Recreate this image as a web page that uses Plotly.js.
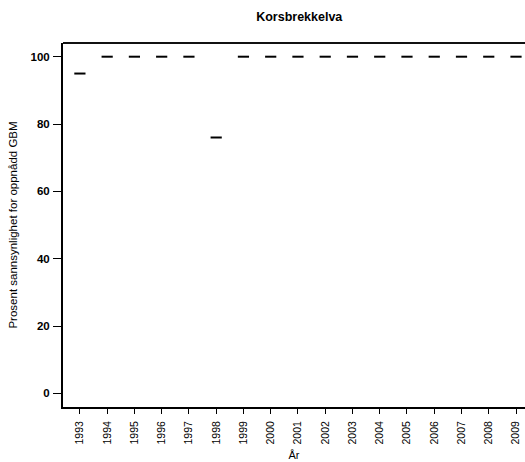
<!DOCTYPE html>
<html>
<head>
<meta charset="utf-8">
<script src="https://cdn.plot.ly/plotly-3.0.1.min.js"></script>
<style>html,body{margin:0;padding:0;background:#fff;}#chart{width:525px;height:462px;}</style>
</head>
<body>
<div id="chart"></div>
<script>
const years = [1993,1994,1995,1996,1997,1998,1999,2000,2001,2002,2003,2004,2005,2006,2007,2008,2009];
const yearLabels = years.map(String);
const probability = [95,100,100,100,100,76,100,100,100,100,100,100,100,100,100,100,100];
const yTicks = [0,20,40,60,80,100];

const trace = {
  x: years, y: probability, type: 'scatter', mode: 'markers',
  marker: {symbol: 'line-ew', size: 8, line: {width: 2, color: '#000'}, color: '#000'},
  hoverinfo: 'x+y'
};
const layout = {
  width: 525, height: 462,
  margin: {l: 63, r: 0, t: 43, b: 55},
  paper_bgcolor: '#fff', plot_bgcolor: '#fff',
  font: {family: 'Liberation Sans, Arial, sans-serif', color: '#000', size: 10},
  showlegend: false,
  title: {text: 'Korsbrekkelva', font: {size: 12.5, weight: 'bold', color: '#000'}, x: 0.57, xanchor: 'center', y: 0.963, yanchor: 'middle'},
  xaxis: {
    range: [1992.38, 2009.33], tickvals: years, ticktext: yearLabels, tickangle: -90,
    showgrid: false, zeroline: false, showline: true, linewidth: 2, linecolor: '#000',
    ticks: 'outside', ticklen: 5, tickwidth: 1, tickcolor: '#000', ticklabelstandoff: 3,
    tickfont: {size: 10.5, color: '#000'},
    title: {text: 'År', font: {size: 11, color: '#000'}, standoff: 8}
  },
  yaxis: {
    range: [-4.05, 104.07], tickvals: yTicks,
    showgrid: false, zeroline: false, showline: true, linewidth: 2, linecolor: '#000',
    ticks: 'outside', ticklen: 8, tickwidth: 1, tickcolor: '#000', ticklabelstandoff: 1,
    tickfont: {size: 11.5, color: '#000', weight: 'bold'},
    title: {text: 'Prosent sannsynlighet for oppnådd GBM', font: {size: 11.5, color: '#000'}, standoff: 10}
  },
  shapes: [{type: 'line', xref: 'paper', yref: 'paper', x0: 0, x1: 1, y0: 1, y1: 1, line: {color: '#111', width: 2}}]
};
Plotly.newPlot('chart', [trace], layout, {displayModeBar: false, staticPlot: true});
</script>
</body>
</html>
